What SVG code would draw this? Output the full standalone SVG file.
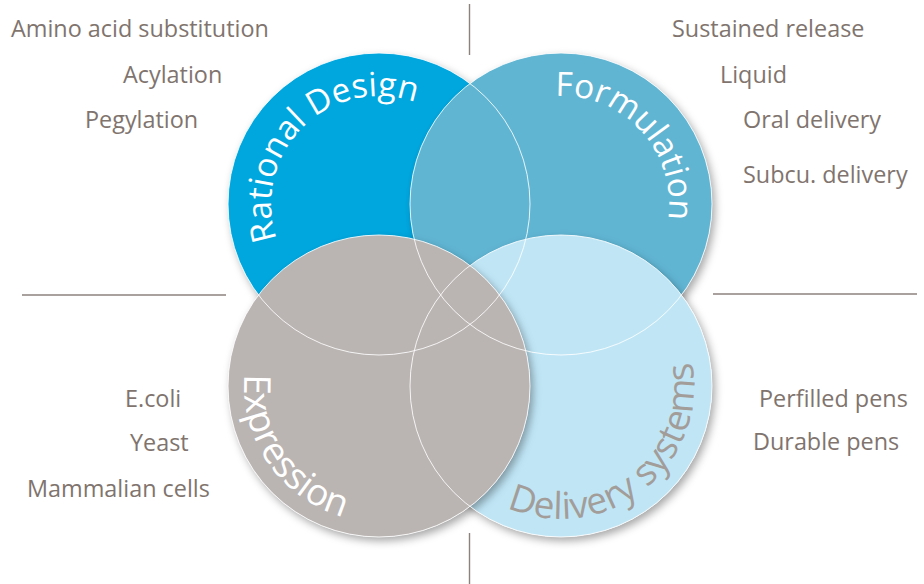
<svg xmlns="http://www.w3.org/2000/svg" width="924" height="584" viewBox="0 0 924 584">
<style>
.lbl{font-family:"Open Sans","Noto Sans",sans-serif;font-size:23.4px;fill:#7f746e}
.big{font-family:"Open Sans","Noto Sans",sans-serif;font-size:33.5px}
.big2{font-family:"Open Sans","Noto Sans",sans-serif;font-size:37px}
.div{stroke:#8c827d;stroke-width:1.4;fill:none}
.ring{fill:none;stroke:#ffffff;stroke-width:1;stroke-opacity:0.85}
</style>
<defs>
<filter id="sh" x="-20%" y="-20%" width="140%" height="140%">
<feDropShadow dx="3" dy="4" stdDeviation="4" flood-color="#000" flood-opacity="0.35"/>
</filter>
<path id="pRD" d="M276.9,239.2 A108,108 0 0 1 433,110.5"/>
<path id="pFO" d="M555.3,96.1 A108,108 0 0 1 658.9,249.7"/>
<path id="pEX" d="M244.5,374.2 A136,136 0 0 0 379,522"/>
<path id="pDS" d="M506.9,507.5 A133,133 0 0 0 662.9,300.5"/>
</defs>
<rect width="924" height="584" fill="#ffffff"/>
<g id="connectors">
<line class="div" x1="469.5" y1="4" x2="469.5" y2="55"/>
<line class="div" x1="469.5" y1="533" x2="469.5" y2="584"/>
<line class="div" x1="22" y1="295" x2="226" y2="295"/>
<line class="div" x1="713" y1="294" x2="917" y2="294"/>
</g>
<g id="rational-design">
<circle cx="379" cy="204" r="151" fill="#00a7df" filter="url(#sh)"/>
<text class="big" fill="#ffffff"><textPath href="#pRD">Rational Design</textPath></text>
<text class="lbl" x="11" y="37">Amino acid substitution</text>
<text class="lbl" x="123" y="83">Acylation</text>
<text class="lbl" x="85" y="128">Pegylation</text>
</g>
<g id="formulation">
<circle cx="561" cy="204" r="151" fill="#60b5d3" filter="url(#sh)"/>
<text class="big" fill="#ffffff"><textPath href="#pFO">Formulation</textPath></text>
<text class="lbl" x="672" y="37">Sustained release</text>
<text class="lbl" x="720" y="83">Liquid</text>
<text class="lbl" x="743" y="128">Oral delivery</text>
<text class="lbl" x="743" y="183">Subcu. delivery</text>
</g>
<g id="delivery-systems">
<circle cx="561" cy="386" r="151" fill="#c0e6f6" filter="url(#sh)"/>
<text class="big2" fill="#a39d9a"><textPath href="#pDS">Delivery systems</textPath></text>
<text class="lbl" x="759" y="407">Perfilled pens</text>
<text class="lbl" x="753" y="450">Durable pens</text>
</g>
<g id="expression">
<circle cx="379" cy="386" r="151" fill="#bab4b2" filter="url(#sh)"/>
<text class="big2" fill="#ffffff"><textPath href="#pEX">Expression</textPath></text>
<text class="lbl" x="125" y="407">E.coli</text>
<text class="lbl" x="130" y="451">Yeast</text>
<text class="lbl" x="27" y="497">Mammalian cells</text>
</g>
<g id="outlines">
<circle class="ring" cx="379" cy="204" r="151"/>
<circle class="ring" cx="561" cy="204" r="151"/>
<circle class="ring" cx="561" cy="386" r="151"/>
<circle class="ring" cx="379" cy="386" r="151"/>
</g>
</svg>
